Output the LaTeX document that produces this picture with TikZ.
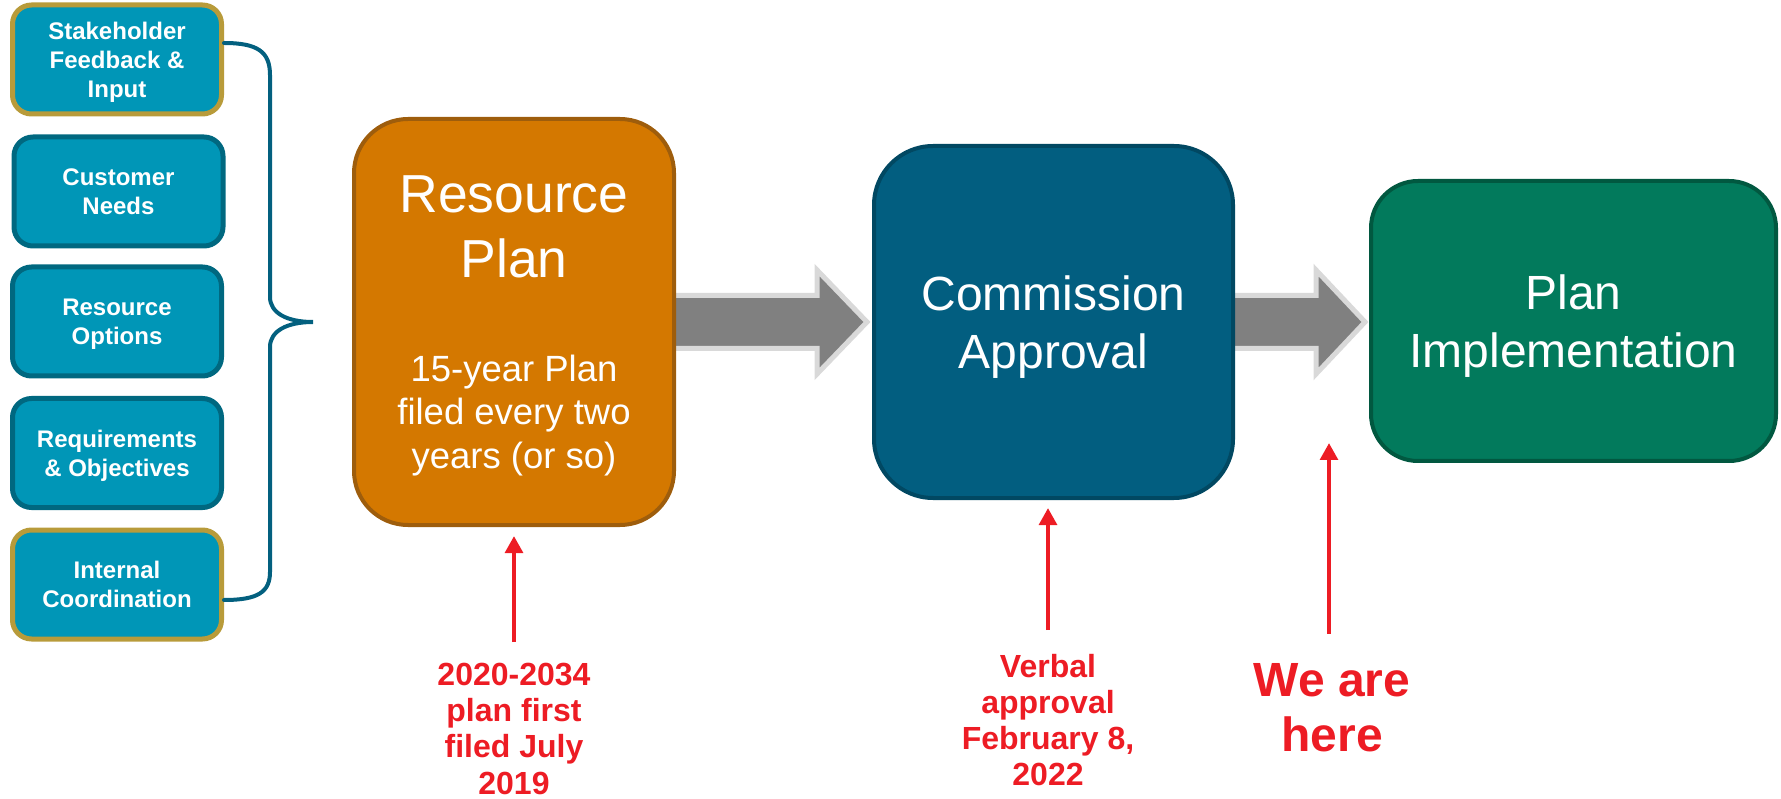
\documentclass[tikz,border=0pt]{standalone}
\usepackage{fontspec}
\setmainfont{Liberation Sans}
\usetikzlibrary{arrows.meta,calc,backgrounds}
\definecolor{tealfill}{HTML}{0096B7}
\definecolor{tealedge}{HTML}{006880}
\definecolor{goldedge}{HTML}{B89B3A}
\definecolor{bracec}{HTML}{03607F}
\definecolor{rpfill}{HTML}{D47800}
\definecolor{rpedge}{HTML}{9E5D0C}
\definecolor{cafill}{HTML}{025E80}
\definecolor{caedge}{HTML}{014862}
\definecolor{pifill}{HTML}{027A5C}
\definecolor{piedge}{HTML}{015840}
\definecolor{arrowfill}{HTML}{808080}
\definecolor{arrowedge}{HTML}{D9D9D9}
\definecolor{redc}{HTML}{ED1C24}
\begin{document}
\begin{tikzpicture}[x=1pt,y=-1pt,
  inbox/.style={draw=tealedge, fill=tealfill, line width=5pt, rounded corners=19pt,
    minimum width=209pt, minimum height=109pt, text width=200pt, align=flush center,
    text=white, font=\bfseries\fontsize{24}{29}\selectfont, inner sep=0pt,
    text height=17.5pt, text depth=29pt},
  goldbox/.style={inbox, draw=goldedge},
  bigbox/.style={line width=4pt, text=white, align=flush center, inner sep=0pt},
  bigarr/.style={draw=arrowedge, fill=arrowfill, line width=5pt, line join=miter},
  bracepath/.style={draw=bracec, line width=4pt, line cap=round},
  redarr/.style={draw=redc, line width=4.5pt, -{Triangle[width=17.5pt,length=17pt]}},
  redtext/.style={text=redc, align=flush center, font=\bfseries\fontsize{32}{36.2}\selectfont,
    inner sep=0pt, anchor=north, text width=200pt}
]
\useasboundingbox (0,0) rectangle (1781,799);

% input boxes
\node[goldbox, text depth=58pt] (b1) at (117,59.5) {Stakeholder\\Feedback \&\\Input};
\node[inbox] (b2) at (118.5,191.5) {Customer\\Needs};
\node[inbox] (b3) at (117,321.5) {Resource\\Options};
\node[inbox] (b4) at (117,453) {Requirements\\\& Objectives};
\node[goldbox] (b5) at (117,584.5) {Internal\\Coordination};

% brace
\coordinate (brtip) at (313,322);
\draw[bracepath] ([yshift=16.5pt]b1.east) .. controls (258,43) and (270,52) .. (270,75)
  -- (270,297) .. controls (270,313) and (287,322) .. (brtip)
  .. controls (287,322) and (270,331) .. (270,347)
  -- (270,572) .. controls (270,592) and (258,600) .. ([yshift=-15.5pt]b5.east);

% main boxes
\node[bigbox, draw=rpedge, fill=rpfill, minimum width=320pt, minimum height=406pt,
  rounded corners=54pt, text width=310pt, text height=38pt, text depth=256pt] (rp) at (514,322)
  {{\fontsize{53.5}{65}\selectfont Resource\\Plan\par}\vspace{60pt}%
   {\fontsize{36.5}{43.5}\selectfont 15-year Plan\\filed every two\\years (or so)\par}};
\node[bigbox, draw=caedge, fill=cafill, minimum width=359pt, minimum height=352pt,
  rounded corners=59pt, text width=340pt, font=\fontsize{48}{58}\selectfont,
  text height=34.3pt, text depth=58pt] (ca)
  at (1053.5,322) {Commission\\Approval};
\node[bigbox, draw=piedge, fill=pifill, minimum width=405pt, minimum height=280pt,
  rounded corners=47pt, text width=390pt, font=\fontsize{48}{58}\selectfont,
  text height=34.3pt, text depth=58pt] (pi)
  at (1573.5,321) {Plan\\Implementation};

% gray flow arrows
\begin{scope}[on background layer]
\path[bigarr] let \p1=(rp.east), \p2=(ca.west) in
  (\x1-8pt,\y1+26.5pt) -- (\x2-55pt,\y1+26.5pt) -- (\x2-55pt,\y1+52pt) -- (\x2-5pt,\y1)
  -- (\x2-55pt,\y1-52pt) -- (\x2-55pt,\y1-26.5pt) -- (\x1-8pt,\y1-26.5pt) -- cycle;
\path[bigarr] let \p1=(ca.east), \p2=(pi.west) in
  (\x1-8pt,\y1+26.5pt) -- (\x2-53pt,\y1+26.5pt) -- (\x2-53pt,\y1+52pt) -- (\x2-4pt,\y1)
  -- (\x2-53pt,\y1-52pt) -- (\x2-53pt,\y1-26.5pt) -- (\x1-8pt,\y1-26.5pt) -- cycle;
\end{scope}

% red annotations
\node[redtext] (tA) at (514,663) {2020-2034\\plan first\\filed July\\2019};
\node[redtext] (tB) at (1048,654) {Verbal\\approval\\February 8,\\2022};
\node[redtext, font=\bfseries\fontsize{48}{55}\selectfont] (tC) at (1332,663.6) {We are\\here};
\coordinate (here) at (1329,443);

\draw[redarr, shorten <=21pt, shorten >=9pt] (tA.north) -- (rp.south);
\draw[redarr, shorten <=24pt, shorten >=8pt] (tB.north) -- (tB.north |- ca.south);
\draw[redarr, shorten <=30pt] (here |- tC.north) -- (here);
\end{tikzpicture}
\end{document}
